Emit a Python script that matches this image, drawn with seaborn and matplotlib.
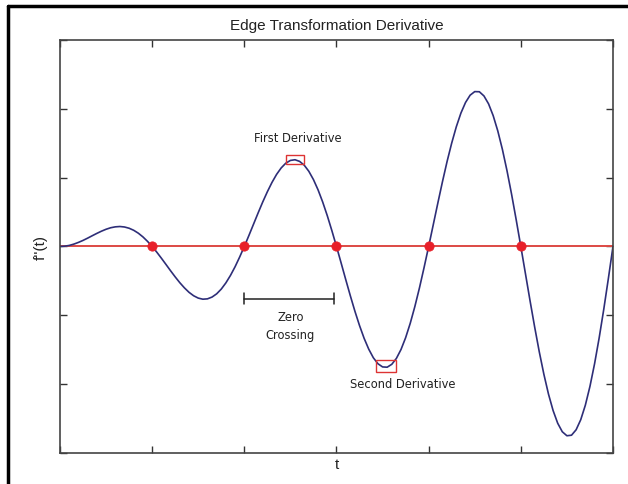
import numpy as np
import pandas as pd
import matplotlib
matplotlib.use("Agg")
import matplotlib.pyplot as plt
from matplotlib.lines import Line2D
from matplotlib.patches import Rectangle
import seaborn as sns

# curve values (t, f''(t))
t_vals = [0.00, 0.05, 0.10, 0.15, 0.20, 0.25, 0.30, 0.35, 0.40, 0.45,
          0.50, 0.55, 0.60, 0.65, 0.70, 0.75, 0.80, 0.85, 0.90, 0.95,
          1.00, 1.05, 1.10, 1.15, 1.20, 1.25, 1.30, 1.35, 1.40, 1.45,
          1.50, 1.55, 1.60, 1.65, 1.70, 1.75, 1.80, 1.85, 1.90, 1.95,
          2.00, 2.05, 2.10, 2.15, 2.20, 2.25, 2.30, 2.35, 2.40, 2.45,
          2.50, 2.55, 2.60, 2.65, 2.70, 2.75, 2.80, 2.85, 2.90, 2.95,
          3.00, 3.05, 3.10, 3.15, 3.20, 3.25, 3.30, 3.35, 3.40, 3.45,
          3.50, 3.55, 3.60, 3.65, 3.70, 3.75, 3.80, 3.85, 3.90, 3.95,
          4.00, 4.05, 4.10, 4.15, 4.20, 4.25, 4.30, 4.35, 4.40, 4.45,
          4.50, 4.55, 4.60, 4.65, 4.70, 4.75, 4.80, 4.85, 4.90, 4.95,
          5.00, 5.05, 5.10, 5.15, 5.20, 5.25, 5.30, 5.35, 5.40, 5.45,
          5.50, 5.55, 5.60, 5.65, 5.70, 5.75, 5.80, 5.85, 5.90, 5.95,
          6.00]
f_vals = [0.000, 0.004, 0.015, 0.034, 0.059, 0.088, 0.121, 0.156, 0.190, 0.222,
          0.250, 0.272, 0.285, 0.290, 0.283, 0.265, 0.235, 0.193, 0.139, 0.074,
          0.000, -0.082, -0.170, -0.261, -0.353, -0.442, -0.526, -0.601, -0.666, -0.716,
          -0.750, -0.766, -0.761, -0.735, -0.688, -0.619, -0.529, -0.420, -0.294, -0.152,
          0.000, 0.160, 0.324, 0.488, 0.647, 0.795, 0.930, 1.047, 1.141, 1.210,
          1.250, 1.260, 1.236, 1.181, 1.092, 0.972, 0.823, 0.647, 0.448, 0.230,
          0.000, -0.238, -0.479, -0.715, -0.941, -1.149, -1.335, -1.492, -1.617, -1.704,
          -1.750, -1.754, -1.712, -1.626, -1.497, -1.326, -1.117, -0.874, -0.603, -0.308,
          0.000, 0.316, 0.633, 0.942, 1.235, 1.502, 1.739, 1.938, 2.092, 2.198,
          2.250, 2.248, 2.187, 2.072, 1.901, 1.679, 1.411, 1.101, 0.757, 0.386,
          0.000, -0.394, -0.788, -1.169, -1.529, -1.856, -2.144, -2.383, -2.568, -2.692,
          -2.750, -2.742, -2.663, -2.517, -2.306, -2.033, -1.705, -1.328, -0.912, -0.464,
          0.000]

zero_t = [1, 2, 3, 4, 5]
zero_f = [0, 0, 0, 0, 0]

# annotation boxes: (t0, f0, width, height)
first_box = (2.45, 1.20, 0.20, 0.13)
second_box = (3.43, -1.82, 0.22, 0.175)

df = pd.DataFrame({"t": t_vals, "f": f_vals})
zeros = pd.DataFrame({"t": zero_t, "f": zero_f})

sns.set_style("white")
fig = plt.figure(figsize=(6.28, 4.85), dpi=100)
ax = fig.add_axes([0.0955, 0.064, 0.8806, 0.8515])

ax.axhline(0, color="#dd4a44", lw=1.4, zorder=1)
sns.lineplot(data=df, x="t", y="f", color="#2e2e78", lw=1.2, ax=ax, zorder=2)
sns.scatterplot(data=zeros, x="t", y="f", color="#e8202a", s=45,
                edgecolor="#e8202a", ax=ax, zorder=3)

for b in (first_box, second_box):
    ax.add_patch(Rectangle((b[0], b[1]), b[2], b[3], fill=False,
                           edgecolor="#dd3333", lw=1.0, zorder=4))

ann_font = dict(family="DejaVu Sans", fontsize=8.3, color="#222222")
ax.text(2.58, 1.58, "First Derivative", ha="center", va="center", **ann_font)
ax.text(3.72, -1.99, "Second Derivative", ha="center", va="center", **ann_font)

# zero crossing bracket
ax.plot([2.0, 2.97], [-0.76, -0.76], color="#222222", lw=1.1)
ax.plot([2.0, 2.0], [-0.68, -0.84], color="#222222", lw=1.1)
ax.plot([2.97, 2.97], [-0.68, -0.84], color="#222222", lw=1.1)
ax.text(2.5, -0.93, "Zero\nCrossing", ha="center", va="top",
        linespacing=1.45, **ann_font)

ax.set_xlim(0, 6)
ax.set_ylim(-3, 3)
ax.set_xticks([0, 1, 2, 3, 4, 5, 6])
ax.set_yticks([-3, -2, -1, 0, 1, 2, 3])
ax.tick_params(direction="in", length=5, width=1, color="#333333",
               top=True, right=True, bottom=True, left=True,
               labelbottom=False, labelleft=False)
for s in ax.spines.values():
    s.set_color("#444444")
    s.set_linewidth(1.2)

ax.set_title("Edge Transformation Derivative", fontsize=11,
             family="Liberation Sans", color="#222222", pad=8)
ax.set_xlabel("t", fontsize=11, family="Liberation Sans", color="#222222", labelpad=3)
ax.set_ylabel("f''(t)", fontsize=11, family="Liberation Sans", color="#222222", labelpad=9)

# outer frame of the picture
fig.add_artist(Line2D([0.013, 1.0], [0.986, 0.986], color="black", lw=2.5,
                      transform=fig.transFigure))
fig.add_artist(Line2D([0.013, 0.013], [0.0, 0.986], color="black", lw=2.5,
                      transform=fig.transFigure))

fig.savefig("out.png", dpi=100)
